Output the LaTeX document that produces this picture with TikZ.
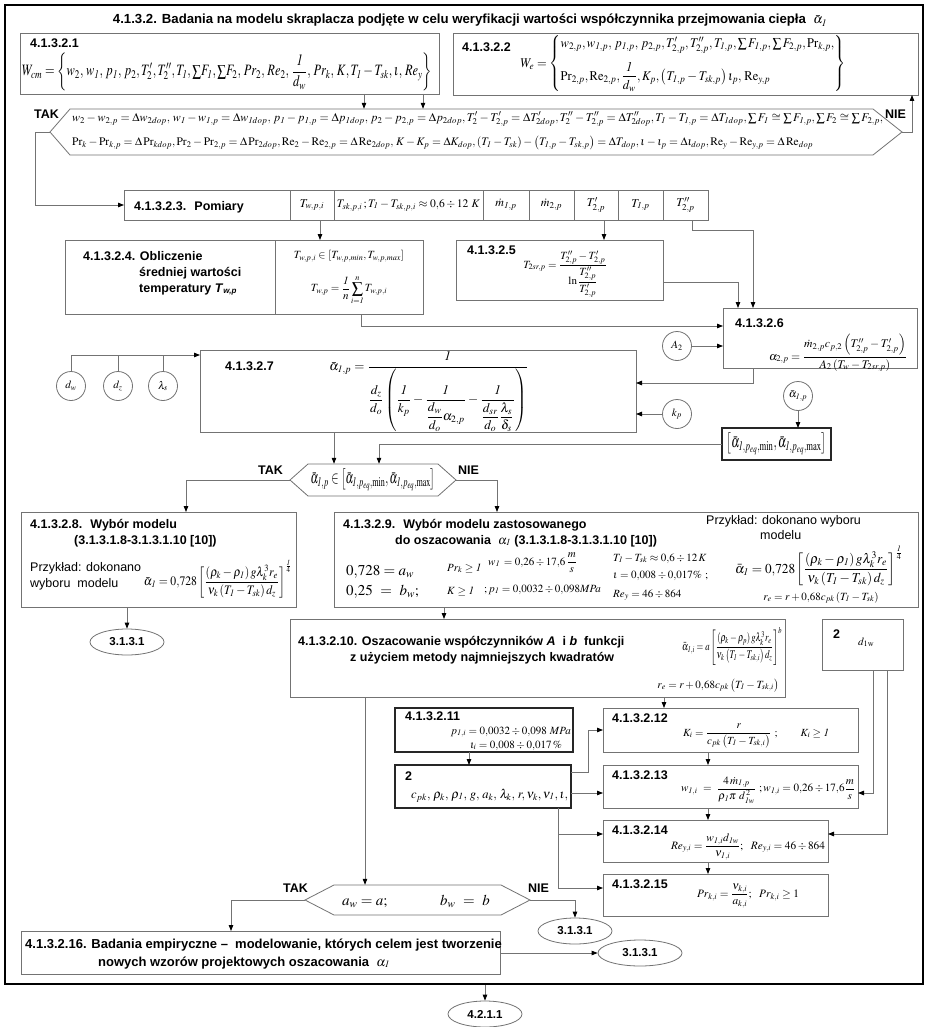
\documentclass[tikz,border=0pt]{standalone}
\usepackage{amsmath}
\usepackage{mathptmx}
\usepackage[no-math]{fontspec}
\setmainfont{Liberation Sans}
\usepackage{graphicx}
\usetikzlibrary{arrows.meta,fit,shapes.geometric}
\newcommand{\uno}{\mathit{1}}
\newcommand{\fw}[2]{\resizebox{#1pt}{!}{$\displaystyle #2$}}
\newcommand{\fwh}[3]{\resizebox*{#1pt}{#2pt}{$\displaystyle #3$}}
\newcommand{\mybox}[6][]{\node[bx,#1,fit={(#3,#4) (#5,#6)}] (#2) {};}
\tikzset{
 bx/.style={draw=black!55, line width=0.8pt, inner sep=0pt, outer sep=0pt},
 tbx/.style={draw=black!85, line width=1.4pt, inner sep=0pt, outer sep=0pt},
 ln/.style={draw=black!55, line width=0.8pt},
 arr/.style={ln, -{Triangle[length=6pt,width=4.5pt,color=black]}},
 lab/.style={font=\bfseries\fontsize{12.5}{15}\selectfont, inner sep=0pt, anchor=base west},
 txt/.style={font=\fontsize{12.5}{15}\selectfont, inner sep=0pt, anchor=base west},
 m/.style={font=\fontsize{11}{13}\selectfont, inner sep=0pt},
 mb/.style={font=\fontsize{11}{13}\selectfont, inner sep=0pt, anchor=base west},
 big/.style={font=\fontsize{15}{17}\selectfont, inner sep=0pt, anchor=base west},
 circ/.style={draw=black!55, line width=0.8pt, circle, minimum size=29pt, inner sep=0pt, font=\fontsize{11}{13}\selectfont},
 ell/.style={draw=black!55, line width=0.8pt, ellipse, minimum width=74pt, minimum height=26pt, inner sep=0pt, font=\bfseries\fontsize{11.5}{13}\selectfont},
}
\begin{document}
\begin{tikzpicture}[x=1pt,y=-1pt]
\useasboundingbox (0,0) rectangle (927,1027);
\fill[white] (0,0) rectangle (927,1027);
\node[fit={(5,5) (923,984)}, draw=black, line width=2.6pt, inner sep=0pt] (frame) {};

% title
\node[font=\bfseries\fontsize{13.2}{15}\selectfont, inner sep=0pt, anchor=base] (title) at (470,24) {4.1.3.2. Badania na modelu skraplacza podjęte w celu weryfikacji wartości współczynnika przejmowania ciepła \ $\bar{\alpha}_{\uno}$};

% top boxes
\mybox{b1}{20}{33}{439}{94}
\node[lab] (b1l) at (30,48) {4.1.3.2.1};
\node[m] (b1f) at (227,72) {\fwh{410}{38}{W_{cm}=\left\{w_2,\,w_{\uno},\,p_{\uno},\,p_2,T_2',T_2'',T_{\uno},{\textstyle\sum} F_{\uno},{\textstyle\sum} F_2,\,Pr_2,\,Re_2,\,\frac{\uno}{d_w},\,Pr_k,\,K,T_{\uno}-T_{sk},\iota,\,Re_y\right\}}};
\mybox{b2}{453}{33}{918}{95}
\node[lab] (b2l) at (462,52) {4.1.3.2.2};
\node[m] (b2f) at (683,64) {\fwh{325}{56}{W_e=\left\{\begin{array}{@{}l@{}} w_{2,p},w_{\uno,p},\,p_{\uno,p},\,p_{2,p},T'_{2,p},T''_{2,p},T_{\uno,p},\textstyle\sum F_{\uno,p},\sum F_{2,p},\mathrm{Pr}_{k,p},\\[8pt] \mathrm{Pr}_{2,p},\mathrm{Re}_{2,p},\dfrac{\uno}{d_w},K_p,\left(T_{\uno,p}-T_{sk,p}\right)\iota_p,\,\mathrm{Re}_{y,p}\end{array}\right\}}};

% hexagon 1
\draw[ln] (50,132) -- (70,109) -- (873,109) -- (902,132) -- (873,155) -- (70,155) -- cycle;
\node[fit={(70,109) (873,155)}, inner sep=0pt] (hex1) {};
\coordinate (h1L) at (50,132); \coordinate (h1R) at (902,132);
\node[m, anchor=west] (h1r1) at (72,119) {\fw{811}{w_2-w_{2,p}=\Delta w_{2dop},\,w_{\uno}-w_{\uno,p}=\Delta w_{\uno dop},\,p_{\uno}-p_{\uno,p}=\Delta p_{\uno dop},\,p_2-p_{2,p}=\Delta p_{2dop},T_2'-T'_{2,p}=\Delta T'_{2dop},T_2''-T''_{2,p}=\Delta T''_{2dop},T_{\uno}-T_{\uno,p}=\Delta T_{\uno dop},\textstyle\sum F_{\uno}\cong\sum F_{\uno,p},\sum F_2\cong\sum F_{2,p},}};
\node[m, anchor=west] (h1r2) at (72,143) {\fw{741}{\mathrm{Pr}_k-\mathrm{Pr}_{k,p}=\Delta\,\mathrm{Pr}_{kdop},\mathrm{Pr}_2-\mathrm{Pr}_{2,p}=\Delta\,\mathrm{Pr}_{2dop},\mathrm{Re}_2-\mathrm{Re}_{2,p}=\Delta\,\mathrm{Re}_{2dop},\,K-K_p=\Delta K_{dop},\left(T_{\uno}-T_{sk}\right)-\left(T_{\uno,p}-T_{sk,p}\right)=\Delta T_{dop},\iota-\iota_p=\Delta\iota_{dop},\mathrm{Re}_y-\mathrm{Re}_{y,p}=\Delta\,\mathrm{Re}_{dop}}};
\node[lab] (tak1) at (34,119) {TAK};
\node[lab] (nie1) at (885,119) {NIE};

% pomiary row
\mybox{p0}{124}{190}{290}{220}
\mybox{p1}{290}{190}{334}{220}
\mybox{p2}{334}{190}{483}{220}
\mybox{p3}{483}{190}{529}{220}
\mybox{p4}{529}{190}{574}{220}
\mybox{p5}{574}{190}{618}{220}
\mybox{p6}{618}{190}{663}{220}
\mybox{p7}{663}{190}{708}{220}
\node[lab] (p0t) at (134,210) {4.1.3.2.3. \ Pomiary};
\node[m, font=\fontsize{12}{14}\selectfont] (p1t) at (p1) {$T_{w,p,i}$};
\node[m] (p2t) at (p2) {\fw{143}{T_{sk,p,i}\,;T_{\uno}-T_{sk,p,i}\approx0{,}6\div12\ K}};
\node[m, font=\fontsize{12}{14}\selectfont] (p3t) at (p3) {$\dot m_{\uno,p}$};
\node[m, font=\fontsize{12}{14}\selectfont] (p4t) at (p4) {$\dot m_{2,p}$};
\node[m, font=\fontsize{12}{14}\selectfont] (p5t) at (p5) {$T'_{2,p}$};
\node[m, font=\fontsize{12}{14}\selectfont] (p6t) at (p6) {$T_{\uno,p}$};
\node[m, font=\fontsize{12}{14}\selectfont] (p7t) at (p7) {$T''_{2,p}$};

% 4.1.3.2.4
\mybox{b4a}{65}{240}{275}{314}
\mybox{b4b}{275}{240}{423}{314}
\node[lab] (b4l1) at (83,260) {4.1.3.2.4. Obliczenie};
\node[lab] (b4l2) at (139,276) {średniej wartości};
\node[lab] (b4l3) at (139,292) {temperatury \textit{T}\textsubscript{\textit{\fontsize{8}{9}\selectfont w,p}}};
\node[m] (b4f1) at (349,256) {$T_{w,p,i}\in\left[T_{w,p,min},T_{w,p,max}\right]$};
\node[m] (b4f2) at (349,290) {$\displaystyle T_{w,p}=\frac{\uno}{n}\sum_{i=\uno}^{n}T_{w,p,i}$};

% 4.1.3.2.5
\mybox{b5}{456}{240}{663}{300}
\node[lab] (b5l) at (467,254) {4.1.3.2.5};
\node[m] (b5f) at (565,274) {$T_{2sr,p}=\dfrac{T''_{2,p}-T'_{2,p}}{\ln\dfrac{T''_{2,p}}{T'_{2,p}}}$};

% 4.1.3.2.6
\mybox{b6}{723}{308}{917}{368}
\node[lab] (b6l) at (735,327) {4.1.3.2.6};
\node[m] (b6f) at (838,353) {\fw{138}{\alpha_{2,p}=\dfrac{\dot m_{2,p}c_{p,2}\left(T''_{2,p}-T'_{2,p}\right)}{A_2\left(T_w-T_{2sr,p}\right)}}};
\node[circ] (A2) at (677,346) {$A_2$};

% 4.1.3.2.7
\mybox{b7}{200}{350}{636}{432}
\node[lab] (b7l) at (225,370) {4.1.3.2.7};
\node[m] (b7f) at (428,391) {\fw{197}{\bar\alpha_{\uno,p}=\cfrac{\uno}{\dfrac{d_z}{d_o}\left(\dfrac{\uno}{k_p}-\dfrac{\uno}{\dfrac{d_w}{d_o}\alpha_{2,p}}-\dfrac{\uno}{\dfrac{d_{sr}}{d_o}\dfrac{\lambda_s}{\delta_s}}\right)}}};
\node[circ] (dw) at (71,386) {$d_w$};
\node[circ] (dz) at (118,386) {$d_z$};
\node[circ] (ls) at (163,386) {$\lambda_s$};
\node[circ] (kp) at (677,414) {$k_p$};
\node[circ] (ab) at (798,396) {$\bar\alpha_{\uno,p}$};
\node[tbx, fit={(722,428) (831,460)}] (bbr) {};
\node[m] (bbrt) at (bbr) {\fwh{100}{22}{\left[\bar\alpha_{\uno,p_{eq},\min},\bar\alpha_{\uno,p_{eq},\max}\right]}};

% decision 2
\draw[ln] (290,480) -- (308,464) -- (438,464) -- (456,480) -- (438,496) -- (308,496) -- cycle;
\node[fit={(308,464) (438,496)}, inner sep=0pt] (h2) {};
\coordinate (h2L) at (290,480); \coordinate (h2R) at (456,480);
\node[m] (h2t) at (373,480) {\fwh{125}{22}{\bar\alpha_{\uno,p}\in\left[\bar\alpha_{\uno,p_{eq},\min},\bar\alpha_{\uno,p_{eq},\max}\right]}};
\node[lab] (tak2) at (258,474) {TAK};
\node[lab] (nie2) at (458,474) {NIE};

% 4.1.3.2.8
\mybox{b8}{21}{512}{296}{607}
\node[lab] (b8l1) at (30,528) {4.1.3.2.8. \ Wybór modelu};
\node[lab] (b8l2) at (74,544) {(3.1.3.1.8-3.1.3.1.10 [10])};
\node[txt] (b8t1) at (30,571) {Przykład: dokonano};
\node[txt] (b8t2) at (30,587) {wyboru \ modelu};
\node[m] (b8f) at (218,579) {\fwh{148}{38}{\bar\alpha_{\uno}=0{,}728\left[\dfrac{\left(\rho_k-\rho_{\uno}\right)g\lambda_k^3r_e}{\nu_k\left(T_{\uno}-T_{sk}\right)d_z}\right]^{\frac{\uno}{4}}}};
\node[ell] (e1) at (127,642) {3.1.3.1};

% 4.1.3.2.9
\mybox{b9}{334}{512}{918}{607}
\node[lab] (b9l1) at (343,528) {4.1.3.2.9. \ Wybór modelu zastosowanego};
\node[lab] (b9l2) at (395,544) {do oszacowania \ $\alpha_{\uno}$ (3.1.3.1.8-3.1.3.1.10 [10])};
\node[txt] (b9t1) at (706,524) {Przykład: dokonano wyboru};
\node[txt] (b9t2) at (760,539) {modelu};
\node[big] (b9a) at (346,575) {$0{,}728=a_{w}$};
\node[big] (b9b) at (346,595) {$0{,}25\ =\ b_{w};$};
\node[mb] (b9c) at (447,571) {$Pr_k\ge\uno$};
\node[mb] (b9d) at (447,594) {$K\ge\uno$};
\node[m, anchor=west] (b9e) at (488,563) {$w_{\uno}\,=0{,}26\div17{,}6\,\dfrac{m}{s}$};
\node[mb] (b9f) at (484,592) {$;p_{\uno}=0{,}0032\div0{,}098MPa$};
\node[mb] (b9g) at (613,561) {$T_{\uno}-T_{sk}\approx0{,}6\div12\,K$};
\node[mb] (b9h) at (613,578) {$\iota=0{,}008\div0{,}017\%\ ;$};
\node[mb] (b9i) at (613,597) {$Re_y=46\div864$};
\node[m] (b9j) at (819,566) {\fwh{168}{40}{\bar\alpha_{\uno}=0{,}728\left[\dfrac{\left(\rho_k-\rho_{\uno}\right)g\lambda_k^3r_e}{\nu_k\left(T_{\uno}-T_{sk}\right)d_z}\right]^{\frac{\uno}{4}}}};
\node[m, anchor=base] (b9k) at (821,600) {$r_e=r+0{,}68c_{pk}\left(T_{\uno}-T_{sk}\right)$};

% 4.1.3.2.10
\mybox{b10}{290}{619}{785}{697}
\node[lab] (b10l1) at (298,645) {4.1.3.2.10. Oszacowanie współczynników \textit{A} \ i \textit{b} \ funkcji};
\node[lab] (b10l2) at (350,661) {z użyciem metody najmniejszych kwadratów};
\node[m] (b10f) at (732,646) {\fwh{100}{38}{\bar\alpha_{\uno,i}=a\left[\dfrac{\left(\rho_k-\rho_p\right)g\lambda_k^3r_e}{\nu_k\left(T_{\uno}-T_{sk,i}\right)d_z}\right]^b}};
\node[m, anchor=base east] (b10r) at (779,688) {$r_e=r+0{,}68c_{pk}\left(T_{\uno}-T_{sk,i}\right)$};

% d1w box
\mybox{d1w}{822}{619}{903}{670}
\node[lab] (d1wl) at (833,638) {2};
\node[mb] (d1wt) at (858,645) {$d_{\mathrm{1w}}$};

% 4.1.3.2.11
\mybox[tbx]{b11}{395}{708}{573}{752}
\node[lab] (b11l) at (405,720) {4.1.3.2.11};
\node[m, anchor=base east] (b11a) at (571,734) {$p_{\uno,i}=0{,}0032\div0{,}098\ MPa$};
\node[m, anchor=base] (b11b) at (516,748) {$\iota_i=0{,}008\div0{,}017\,\%$};

% parameter box 2
\mybox[tbx]{b2p}{395}{765}{571}{808}
\node[lab] (b2pl) at (405,780) {2};
\node[mb] (b2pt) at (411,798) {\fw{157}{c_{pk},\,\rho_k,\,\rho_{\uno},\,g,\,a_k,\,\lambda_k,\,r,\nu_k,\nu_{\uno},\iota,}};

% 4.1.3.2.12 - 15
\mybox{b12}{603}{708}{858}{752}
\node[lab] (b12l) at (612,722) {4.1.3.2.12};
\node[m] (b12f) at (756,736) {\fw{146}{K_i=\dfrac{r}{c_{pk}\left(T_{\uno}-T_{sk,i}\right)}\ ;\qquad K_i\ge\uno}};
\mybox{b13}{603}{765}{858}{808}
\node[lab] (b13l) at (612,779) {4.1.3.2.13};
\node[m] (b13f) at (768,790) {\fw{174}{w_{\uno,i}\ =\ \dfrac{4\,\dot m_{\uno,p}}{\rho_{\uno}\pi\ d_{\uno w}^{\,2}}\ ;w_{\uno,i}=0{,}26\div17{,}6\dfrac{m}{s}}};
\mybox{b14}{603}{820}{828}{862}
\node[lab] (b14l) at (612,834) {4.1.3.2.14};
\node[m] (b14f) at (748,847) {\fw{154}{Re_{y,i}=\dfrac{w_{\uno,i}d_{\uno w}}{\nu_{\uno,i}};\ \ Re_{y,i}=46\div864}};
\mybox{b15}{603}{874}{828}{916}
\node[lab] (b15l) at (612,888) {4.1.3.2.15};
\node[m] (b15f) at (748,896) {\fw{102}{Pr_{k,i}=\dfrac{\nu_{k,i}}{a_{k,i}};\ \ Pr_{k,i}\ge1}};

% hexagon 3
\draw[ln] (305,900) -- (334,885) -- (501,885) -- (530,900) -- (501,915) -- (334,915) -- cycle;
\node[fit={(334,885) (501,915)}, inner sep=0pt] (h3) {};
\coordinate (h3L) at (305,900); \coordinate (h3R) at (530,900);
\node[big] (h3a) at (342,905) {$a_w=a;$};
\node[big] (h3b) at (440,905) {$b_w\ =\ b$};
\node[lab] (tak3) at (283,892) {TAK};
\node[lab] (nie3) at (528,892) {NIE};
\node[ell] (e2) at (575,931) {3.1.3.1};

% 4.1.3.2.16
\mybox{b16}{21}{931}{500}{974}
\node[lab, font=\bfseries\fontsize{13}{15}\selectfont] (b16l1) at (25,948) {4.1.3.2.16. Badania empiryczne – \ modelowanie, których celem jest tworzenie};
\node[lab, font=\bfseries\fontsize{13}{15}\selectfont] (b16l2) at (98,966) {nowych wzorów projektowych oszacowania \ \mdseries$\alpha_{\uno}$};
\node[ell, minimum width=84pt] (e3) at (640,953) {3.1.3.1};
\node[ell] (e4) at (485,1014) {4.2.1.1};

% coordinates
\coordinate (x364) at (364,0); \coordinate (x423) at (423,0);
\coordinate (c35) at (35,132); \coordinate (c912) at (912,132);
\coordinate (x320) at (320,0); \coordinate (x604) at (604,0);
\coordinate (c692) at (692,230); \coordinate (c753) at (753,230);
\coordinate (c738) at (738,282); \coordinate (c361) at (361,326);
\coordinate (c753b) at (753,383); \coordinate (c355) at (0,355);
\coordinate (c379) at (379,444); \coordinate (x334) at (334,0);
\coordinate (c186) at (186,480); \coordinate (c497) at (497,480);
\coordinate (x444) at (444,0); \coordinate (x365) at (365,0);
\coordinate (x664) at (664,0); \coordinate (x469) at (469,0);
\coordinate (c588a) at (588,772); \coordinate (c588b) at (588,730);
\coordinate (c793) at (0,793); \coordinate (c558) at (558,834);
\coordinate (c558b) at (558,888); \coordinate (x708) at (708,0);
\coordinate (c873) at (873,793); \coordinate (c887) at (887,834);
\coordinate (c231) at (231,900); \coordinate (c575) at (575,900);

% connectors
\draw[arr] (b1.south -| x364) -- (hex1.north -| x364);
\draw[arr] (b1.south -| x423) -- (hex1.north -| x423);
\draw[arr] (h1L) -- (c35) |- (p0.west);
\draw[arr] (h1R) -- (c912) -- (b2.south -| c912);
\draw[arr] (p1.south -| x320) -- (b4b.north -| x320);
\draw[arr] (p5.south -| x604) -- (b5.north -| x604);
\draw[arr] (p7.south -| c692) -- (c692) -- (c753) -- (b6.north -| c753);
\draw[arr] (b5.east |- c738) -- (c738) -- (b6.north -| c738);
\draw[arr] (b4b.south -| c361) -- (c361) -- (b6.west |- c361);
\draw[arr] (A2) -- (b6.west |- A2);
\draw[arr] (b6.south -| c753b) -- (c753b) -- (b7.east |- c753b);
\draw[arr] (kp) -- (b7.east |- kp);
\draw[ln] (dw.north) -- (dw.north |- c355);
\draw[ln] (dz.north) -- (dz.north |- c355);
\draw[ln] (ls.north) -- (ls.north |- c355);
\draw[arr] (dw.north |- c355) -- (b7.west |- c355);
\draw[arr] (ab) -- (bbr.north -| ab);
\draw[arr] (bbr.west |- c379) -- (c379) -- (h2.north -| c379);
\draw[arr] (b7.south -| x334) -- (h2.north -| x334);
\draw[arr] (h2L) -- (c186) -- (b8.north -| c186);
\draw[arr] (h2R) -- (c497) -- (b9.north -| c497);
\draw[arr] (b8.south -| e1) -- (e1.north);
\draw[arr] (b9.south -| x444) -- (b10.north -| x444);
\draw[arr] (b10.south -| x365) -- (h3.north -| x365);
\draw[arr] (b10.south -| x664) -- (b12.north -| x664);
\draw[arr] (b11.south -| x469) -- (b2p.north -| x469);
\draw[arr] (b2p.east |- c588a) -- (c588a) -- (c588b) -- (b12.west |- c588b);
\draw[arr] (b2p.east |- c793) -- (b13.west |- c793);
\draw[arr] (b2p.south -| c558) -- (c558) -- (b14.west |- c558);
\draw[arr] (c558) -- (c558b) -- (b15.west |- c558b);
\draw[arr] (b12.south -| x708) -- (b13.north -| x708);
\draw[arr] (b13.south -| x708) -- (b14.north -| x708);
\draw[arr] (b14.south -| x708) -- (b15.north -| x708);
\draw[arr] (d1w.south -| c873) -- (c873) -- (b13.east |- c873);
\draw[arr] (d1w.south -| c887) -- (c887) -- (b14.east |- c887);
\draw[arr] (h3L) -- (c231) -- (b16.north -| c231);
\draw[arr] (h3R) -- (c575) -- (e2.north);
\draw[arr] (b16.east |- e3) -- (e3.west);
\draw[arr] (frame.south -| e4) -- (e4.north);
\end{tikzpicture}
\end{document}
